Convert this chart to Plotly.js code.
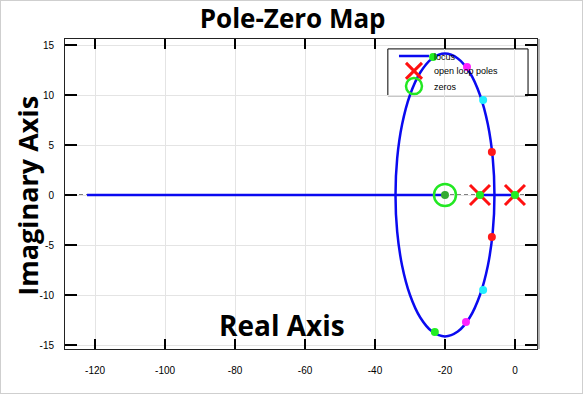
<!DOCTYPE html>
<html>
<head>
<meta charset="utf-8">
<script src="https://cdn.plot.ly/plotly-3.0.1.min.js"></script>
<style>
html,body{margin:0;padding:0;background:#fff;}
#chart{width:583px;height:394px;}
#frame{position:absolute;left:0;top:0;width:583px;height:394px;box-sizing:border-box;border:1px solid #cfcfcf;pointer-events:none;}
</style>
</head>
<body>
<div id="chart"></div>
<div id="frame"></div>
<script>
// Root locus: real-axis segments and the circular branch
const locusRealX = [-122.3, -20, null, -10, 0];
const locusRealY = [0, 0, null, 0, 0];
const circleX = [-5.86, -6.34, -7.75, -10.0, -12.93, -16.34, -20.0, -23.66, -27.07, -30.0, -32.25, -33.66, -34.14,
                 -33.66, -32.25, -30.0, -27.07, -23.66, -20.0, -16.34, -12.93, -10.0, -7.75, -6.34, -5.86];
const circleY = [0, 3.66, 7.07, 10.0, 12.25, 13.66, 14.14, 13.66, 12.25, 10.0, 7.07, 3.66, 0,
                 -3.66, -7.07, -10.0, -12.25, -13.66, -14.14, -13.66, -12.25, -10.0, -7.07, -3.66, 0];

// Open-loop poles and zeros
const polesX = [0, -10];
const polesY = [0, 0];
const zerosX = [-20];
const zerosY = [0];

// Closed-loop roots at selected gains
const greenX = [-23.4, -22.9, 0, -10];
const greenY = [13.8, -13.7, 0, 0];
const zeroDotX = [-20];
const zeroDotY = [0];
const magentaX = [-13.7, -14.0];
const magentaY = [12.8, -12.7];
const cyanX = [-9.1, -9.1];
const cyanY = [9.5, -9.5];
const redX = [-6.6, -6.6];
const redY = [4.3, -4.2];

// Tick labels
const xTicks = [-120, -100, -80, -60, -40, -20, 0];
const yTicks = [-15, -10, -5, 0, 5, 10, 15];

const tickFont = {family: 'Liberation Sans, Arial, sans-serif', size: 10, color: '#000'};
const boldFont = 'Open Sans, Noto Sans, sans-serif';
const legFont = {family: 'Liberation Sans, Arial, sans-serif', size: 9, color: '#000'};

const locusX = locusRealX.concat([null], circleX);
const locusY = locusRealY.concat([null], circleY);

const traces = [
  {x: locusX, y: locusY, type: 'scatter', mode: 'lines', name: 'locus', legend: 'legend',
   line: {color: '#0a0af0', width: 2.5, shape: 'spline', smoothing: 1}, connectgaps: false},
  {x: polesX, y: polesY, type: 'scatter', mode: 'markers', name: 'open loop poles', legend: 'legend2',
   marker: {symbol: 'x-thin-open', size: 20, color: '#ff1010', line: {color: '#ff1010', width: 3}}},
  {x: zerosX, y: zerosY, type: 'scatter', mode: 'markers', name: 'zeros', legend: 'legend3',
   marker: {symbol: 'circle-open', size: 22, color: '#22e822', line: {color: '#22e822', width: 2.5}}},
  {x: greenX, y: greenY, type: 'scatter', mode: 'markers', showlegend: false,
   marker: {size: 8, color: '#22ee22', line: {width: 0}}},
  {x: zeroDotX, y: zeroDotY, type: 'scatter', mode: 'markers', showlegend: false,
   marker: {size: 8, color: '#33aa33', line: {width: 0}}},
  {x: magentaX, y: magentaY, type: 'scatter', mode: 'markers', showlegend: false,
   marker: {size: 8, color: '#ff22ff', line: {width: 0}}},
  {x: cyanX, y: cyanY, type: 'scatter', mode: 'markers', showlegend: false,
   marker: {size: 8, color: '#22eeff', line: {width: 0}}},
  {x: redX, y: redY, type: 'scatter', mode: 'markers', showlegend: false,
   marker: {size: 8, color: '#ff1a1a', line: {width: 0}}}
];

function leg(yc) {
  return {x: 0.697, y: yc, xanchor: 'left', yanchor: 'middle',
          bgcolor: 'rgba(0,0,0,0)', borderwidth: 0, font: legFont, itemwidth: 30};
}

const layout = {
  width: 583, height: 394,
  margin: {l: 65, r: 46, t: 39, b: 45, pad: 0},
  paper_bgcolor: '#fff', plot_bgcolor: '#fff',
  showlegend: true,
  title: {text: '<b>Pole-Zero Map</b>', font: {family: boldFont, size: 26, color: '#000'},
          x: 0.502, xanchor: 'center', y: 0.953, yanchor: 'middle'},
  xaxis: {range: [-128.6, 6.3], tickvals: xTicks, ticktext: xTicks.map(String),
          ticks: 'inside', ticklen: 10, tickwidth: 1.5, tickcolor: '#000',
          showline: true, linecolor: '#222', linewidth: 1, mirror: 'ticks',
          showgrid: true, gridcolor: '#e4e4e4', gridwidth: 1, zeroline: false,
          tickfont: tickFont, ticklabelstandoff: 12},
  yaxis: {range: [-15.4, 15.6], tickvals: yTicks, ticktext: yTicks.map(String),
          ticks: 'inside', ticklen: 12, tickwidth: 2, tickcolor: '#000',
          showline: true, linecolor: '#222', linewidth: 1, mirror: 'ticks',
          showgrid: true, gridcolor: '#e4e4e4', gridwidth: 1, zeroline: false,
          tickfont: tickFont, ticklabelstandoff: 8},
  legend: leg(0.945),
  legend2: leg(0.897),
  legend3: leg(0.848),
  shapes: [
    {type: 'line', xref: 'paper', yref: 'y', x0: 0, x1: 1, y0: 0, y1: 0,
     line: {color: '#000', width: 1, dash: '4px,3px'}, layer: 'between'},
    {type: 'rect', xref: 'paper', yref: 'paper', x0: 0.684, x1: 0.981, y0: 0.817, y1: 0.968,
     fillcolor: '#fff', line: {color: '#000', width: 1}, layer: 'between'},
    {type: 'line', xref: 'paper', yref: 'paper', x0: 1.004, x1: 1.004, y0: 0, y1: 1,
     line: {color: '#b0b0b0', width: 2}, layer: 'above'}
  ],
  annotations: [
    {text: '<b>Imaginary Axis</b>', xref: 'paper', yref: 'paper', x: -0.08, y: 0.495,
     xanchor: 'center', yanchor: 'middle', textangle: -90, showarrow: false,
     font: {family: boldFont, size: 27, color: '#000'}},
    {text: '<b>Real Axis</b>', xref: 'paper', yref: 'paper', x: 0.46, y: 0.078,
     xanchor: 'center', yanchor: 'middle', showarrow: false,
     font: {family: boldFont, size: 28, color: '#000'}}
  ]
};

Plotly.newPlot('chart', traces, layout, {displayModeBar: false, staticPlot: true});
</script>
</body>
</html>
